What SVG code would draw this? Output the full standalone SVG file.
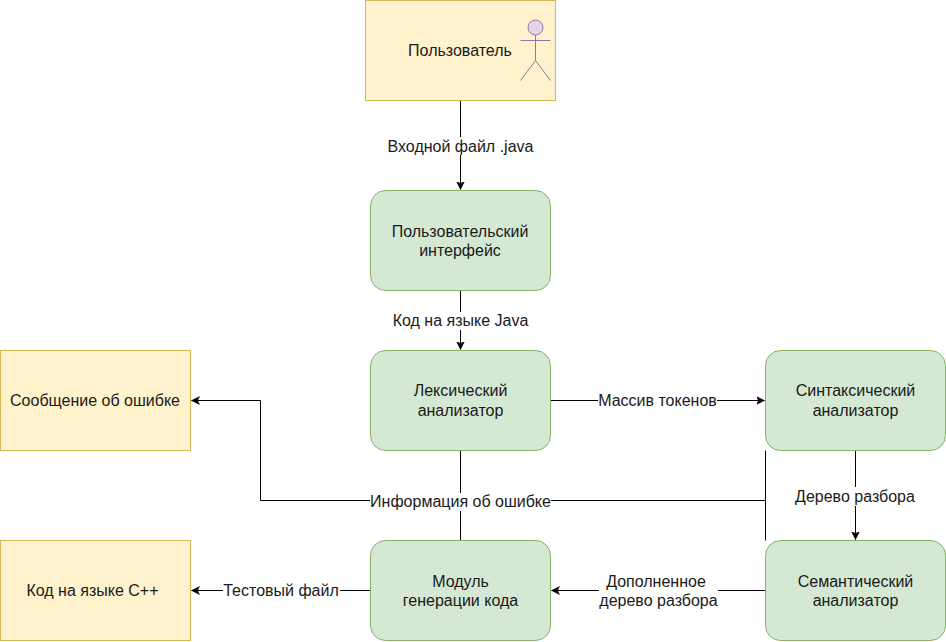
<svg xmlns="http://www.w3.org/2000/svg" width="946" height="642" viewBox="0 0 946 642">
<defs>
<style>
.g{fill:#d5e8d4;stroke:#82b366;stroke-width:1}
.y{fill:#fff2cc;stroke:#d6b656;stroke-width:1}
.c{fill:none;stroke:#000;stroke-width:1}
.a{fill:none;stroke:#9673a6;stroke-width:1}
text{font-family:"Liberation Sans",Arial,sans-serif;font-size:16px;fill:#1a1a1a;text-anchor:middle}
.bg{fill:#fff;stroke:none}
</style>
<marker id="arr" markerUnits="userSpaceOnUse" markerWidth="10" markerHeight="10" refX="8" refY="4.5" orient="auto"><path d="M0,0.5 L8,4.5 L0,8.5 L2,4.5 Z" fill="#000" stroke="#000" stroke-width="0.5"/></marker>
</defs>
<rect width="946" height="642" fill="#fff"/>
<g id="connectors">
<path class="c" d="M460.500 100.500V189.500" marker-end="url(#arr)"/>
<path class="c" d="M460.500 290.500V349.500" marker-end="url(#arr)"/>
<path class="c" d="M550.500 400.500H764.500" marker-end="url(#arr)"/>
<path class="c" d="M855.500 450.500V539.500" marker-end="url(#arr)"/>
<path class="c" d="M765.500 590.500H551.500" marker-end="url(#arr)"/>
<path class="c" d="M370.500 590.500H191.500" marker-end="url(#arr)"/>
<path class="c" d="M460.500 450.500V540.500"/>
<path class="c" d="M765.500 450.500V540.500"/>
<path class="c" d="M765.500 500.500H260.500V400.500H191.500" marker-end="url(#arr)"/>
</g>
<g id="labels">
<rect class="bg" x="387" y="137" width="147" height="18"/><text x="460.500" y="152">Входной файл .java</text>
<rect class="bg" x="392" y="312" width="137" height="18"/><text x="460.500" y="326">Код на языке Java</text>
<rect class="bg" x="598" y="392" width="119" height="18"/><text x="657.500" y="405.500">Массив токенов</text>
<rect class="bg" x="370" y="493" width="181" height="18"/><text x="460.500" y="507">Информация об ошибке</text>
<rect class="bg" x="795" y="487" width="120" height="19"/><text x="855" y="502">Дерево разбора</text>
<rect class="bg" x="599" y="573" width="119" height="36"/><text x="656" y="587">Дополненное</text><text x="658.500" y="606">дерево разбора</text>
<rect class="bg" x="223" y="582" width="117" height="18"/><text x="281" y="596">Тестовый файл</text>
</g>
<g id="user"><rect class="y" x="365.500" y="0.500" width="190" height="100"/><text x="460" y="56">Пользователь</text>
<circle class="a" cx="535.500" cy="27.500" r="7.500" style="fill:#e1d5e7"/><path class="a" d="M535.500 35V60.500M520.500 40.500H550.500M535.500 60.500L520.500 80.500M535.500 60.500L550.500 80.500"/></g>
<g id="ui"><rect class="g" x="370.500" y="190.500" width="180" height="100" rx="15"/><text x="460" y="237">Пользовательский</text><text x="460" y="256">интерфейс</text></g>
<g id="lexer"><rect class="g" x="370.500" y="350.500" width="180" height="100" rx="15"/><text x="460.500" y="396">Лексический</text><text x="460.500" y="416">анализатор</text></g>
<g id="parser"><rect class="g" x="765.500" y="350.500" width="180" height="100" rx="15"/><text x="855.500" y="396">Синтаксический</text><text x="855.500" y="416">анализатор</text></g>
<g id="semantic"><rect class="g" x="765.500" y="540.500" width="180" height="100" rx="15"/><text x="855.500" y="587">Семантический</text><text x="855.500" y="606">анализатор</text></g>
<g id="codegen"><rect class="g" x="370.500" y="540.500" width="180" height="100" rx="15"/><text x="460.500" y="587">Модуль</text><text x="460.500" y="606">генерации кода</text></g>
<g id="error"><rect class="y" x="0.500" y="350.500" width="190" height="100"/><text x="95" y="406">Сообщение об ошибке</text></g>
<g id="cpp"><rect class="y" x="0.500" y="540.500" width="190" height="100"/><text x="92.500" y="596">Код на языке С++</text></g>
</svg>
